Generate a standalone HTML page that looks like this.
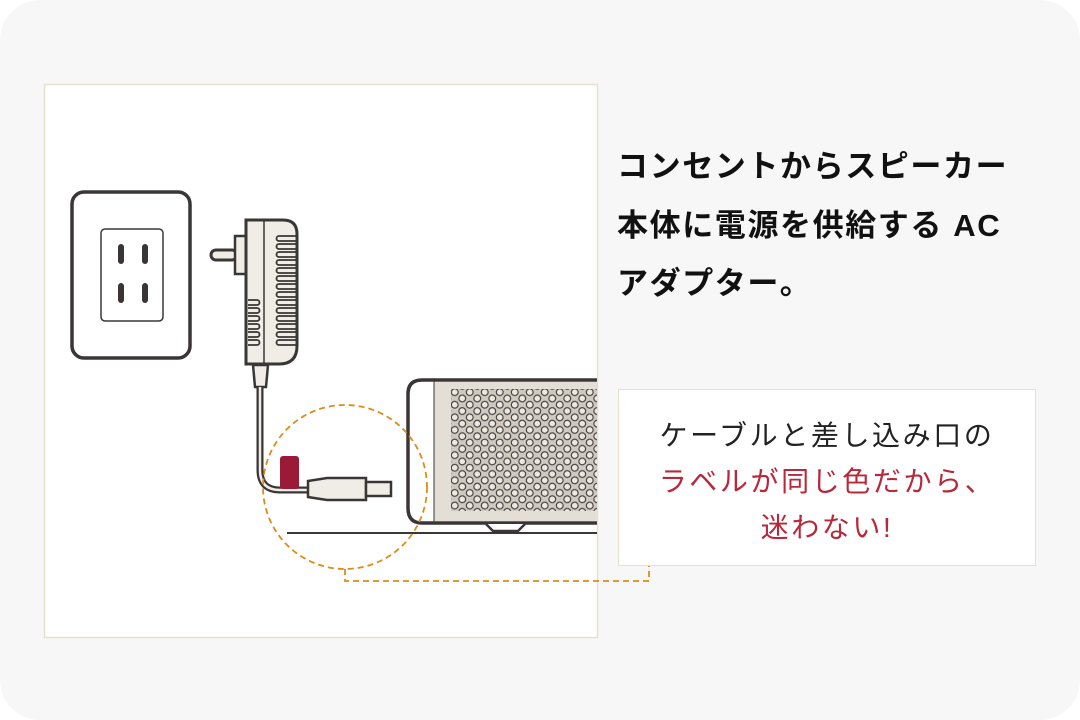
<!DOCTYPE html>
<html><head><meta charset="utf-8"><style>
html,body{margin:0;padding:0;background:#fff;}
body{width:1080px;height:720px;position:relative;overflow:hidden;font-family:"Liberation Sans","Noto Sans CJK JP",sans-serif;}
.card{position:absolute;left:0;top:0;width:1080px;height:720px;background:#f7f7f7;border-radius:40px;}
.title{position:absolute;left:617px;top:138px;font-size:31px;font-weight:bold;line-height:58.5px;color:#111;white-space:nowrap;letter-spacing:1.6px;}
.box{position:absolute;left:618px;top:389px;width:418px;height:177px;background:#fff;border:1.5px solid #e6e0cc;box-sizing:border-box;}
.lbl{position:absolute;left:618px;top:413px;width:418px;text-align:center;font-size:28px;line-height:46px;color:#b8283a;letter-spacing:2.6px;}
.lbl .d{color:#222;}
</style></head><body>
<div class="card"></div>
<svg width="1080" height="720" style="position:absolute;left:0;top:0">
<defs>
<pattern id="hex" x="451" y="389" width="15" height="12.6" patternUnits="userSpaceOnUse">
<rect width="15" height="12.6" fill="#cfc9bf"/>
<g fill="#ece8e0" stroke="#4a4545" stroke-width="1.2">
<circle cx="3.75" cy="3.15" r="3.4"/><circle cx="11.25" cy="9.45" r="3.4"/>
<circle cx="11.25" cy="-3.15" r="3.4"/><circle cx="-3.75" cy="9.45" r="3.4"/><circle cx="3.75" cy="15.75" r="3.4"/><circle cx="18.75" cy="3.15" r="3.4"/>
</g></pattern>
<clipPath id="pc"><rect x="44" y="84" width="553" height="553"/></clipPath>
</defs>
<rect x="44.5" y="84.5" width="553" height="553" fill="#fff" stroke="#e6e0cc" stroke-width="1.5"/>
<g clip-path="url(#pc)">
<rect x="72" y="192" width="118" height="166" rx="12" fill="#fff" stroke="#3a3636" stroke-width="3.5"/>
<rect x="101" y="229" width="62" height="92" rx="4" fill="#fff" stroke="#3a3636" stroke-width="1.5"/>
<g stroke="#3a3636" stroke-width="6" stroke-linecap="round">
<line x1="121" y1="247" x2="121" y2="261"/><line x1="145" y1="247" x2="145" y2="261"/>
<line x1="121" y1="286" x2="121" y2="300"/><line x1="145" y1="286" x2="145" y2="300"/>
</g>
<rect x="211" y="250" width="26" height="10" rx="5" fill="#f0ede6" stroke="#3a3636" stroke-width="3"/>
<rect x="235" y="236" width="13" height="38" fill="#f0ede6" stroke="#3a3636" stroke-width="2.5"/>
<path d="M246 220 H283 Q297 220 297 234 V346 Q297 364 279 364 H246 Z" fill="#f0ede6" stroke="#3a3636" stroke-width="3"/>
<line x1="264" y1="221" x2="264" y2="363" stroke="#3a3636" stroke-width="1.5"/>
<g fill="none" stroke="#3a3636" stroke-width="1.8">
<path d="M296 236 h-17 a2.5 2.5 0 0 0 0 5 h17 M296 244 h-17 a2.5 2.5 0 0 0 0 5 h17 M296 252 h-17 a2.5 2.5 0 0 0 0 5 h17 M296 260 h-17 a2.5 2.5 0 0 0 0 5 h17 M296 268 h-17 a2.5 2.5 0 0 0 0 5 h17 M296 276 h-17 a2.5 2.5 0 0 0 0 5 h17 M296 284 h-17 a2.5 2.5 0 0 0 0 5 h17 M296 292 h-17 a2.5 2.5 0 0 0 0 5 h17 M296 300 h-17 a2.5 2.5 0 0 0 0 5 h17 M296 308 h-17 a2.5 2.5 0 0 0 0 5 h17 M296 316 h-17 a2.5 2.5 0 0 0 0 5 h17 M296 324 h-17 a2.5 2.5 0 0 0 0 5 h17 M296 332 h-17 a2.5 2.5 0 0 0 0 5 h17 M296 340 h-17 a2.5 2.5 0 0 0 0 5 h17"/>
<path d="M248 300 h9 a2.5 2.5 0 0 1 0 5 h-9 M248 308 h9 a2.5 2.5 0 0 1 0 5 h-9 M248 316 h9 a2.5 2.5 0 0 1 0 5 h-9 M248 324 h9 a2.5 2.5 0 0 1 0 5 h-9 M248 332 h9 a2.5 2.5 0 0 1 0 5 h-9 M248 340 h9 a2.5 2.5 0 0 1 0 5 h-9"/>
</g>
<path d="M253 365 L255 387 H266 L268 365 Z" fill="#f0ede6" stroke="#3a3636" stroke-width="2.5"/>
<path d="M260 387 V470 Q260 490 280 490 H310" fill="none" stroke="#3a3636" stroke-width="7"/>
<path d="M260 387 V470 Q260 490 280 490 H310" fill="none" stroke="#f0ede6" stroke-width="2.5"/>
<rect x="280" y="456" width="19" height="33" rx="3" fill="#9a1a38"/>
<path d="M308 481 L327 478 H366 V500 H327 L308 497 Z" fill="#f0ede6" stroke="#3a3636" stroke-width="2.5"/>
<rect x="366" y="482" width="25" height="14" fill="#f0ede6" stroke="#3a3636" stroke-width="2.5"/>
<line x1="287" y1="533" x2="600" y2="533" stroke="#3a3636" stroke-width="2"/>
<path d="M600 380 H422 Q408 380 408 394 V508 Q408 523 422 523 H600" fill="#fff" stroke="#3a3636" stroke-width="3.5"/>
<rect x="434" y="382" width="166" height="139" fill="#e4dfd6"/>
<line x1="434" y1="381" x2="434" y2="522" stroke="#3a3636" stroke-width="1"/>
<rect x="451" y="389" width="146" height="122" fill="url(#hex)"/>
<path d="M486 524 L493 531 H518 L525 524" fill="#fff" stroke="#3a3636" stroke-width="2.5"/>
</g>
<g fill="none" stroke="#dc8c1a" stroke-width="1.8" stroke-dasharray="6,4">
<circle cx="345" cy="487" r="82"/>
<path d="M345 569 V581 H649 V566"/>
</g>
</svg>
<div class="title">コンセントからスピーカー<br>本体に電源を供給する AC<br>アダプター。</div>
<div class="box"></div>
<div class="lbl"><span class="d">ケーブルと差し込み口の</span><br>ラベルが同じ色だから、<br>迷わない!</div>
</body></html>
